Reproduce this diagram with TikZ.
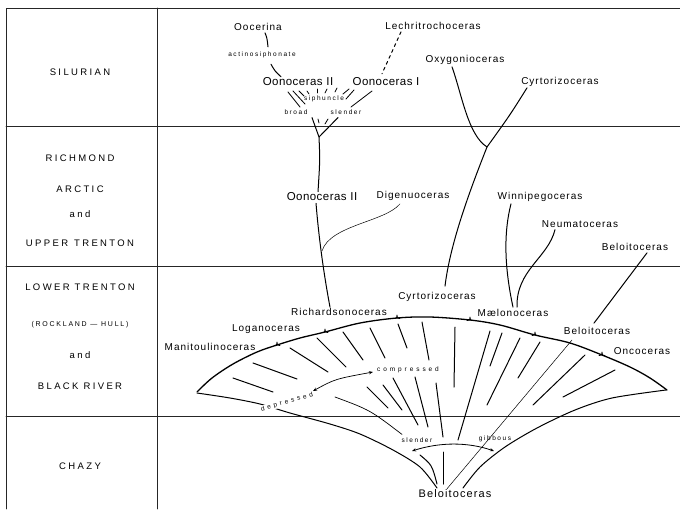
\documentclass[tikz,border=0pt]{standalone}
\usepackage{fontspec}
\setmainfont{Liberation Sans}
\newfontfamily\stagefont[LetterSpace=25]{Liberation Sans}
\newfontfamily\genusfont[LetterSpace=10]{Liberation Sans}
\newfontfamily\biggenusfont[LetterSpace=4]{Liberation Sans}
\newfontfamily\notefont[LetterSpace=24]{Liberation Sans}
\newfontfamily\widenotefont[LetterSpace=45]{Liberation Sans}
\usetikzlibrary{arrows.meta,calc}

\begin{document}
\begin{tikzpicture}[x=1pt,y=-1pt,>={Stealth[length=4pt,width=3.2pt]},line cap=round,line join=round]
\path[fill=white] (0,0) rectangle (680,509);
\useasboundingbox (0,0) rectangle (680,509);
\tikzset{rule/.style={draw=black!85,line width=0.8pt},stage/.style={font=\stagefont\fontsize{9.5}{11}\selectfont,inner sep=1pt},genus/.style={font=\genusfont\fontsize{10}{12}\selectfont,inner sep=1pt},biggenus/.style={font=\biggenusfont\fontsize{11.5}{13}\selectfont,inner sep=1pt},note/.style={font=\notefont\fontsize{6.5}{8}\selectfont,inner sep=1pt},widenote/.style={font=\widenotefont\fontsize{6.5}{8}\selectfont,inner sep=1pt},lin/.style={draw=black,line width=1pt},tick/.style={draw=black,line width=0.8pt},hair/.style={draw=black,line width=0.5pt},rim/.style={draw=black,line width=1.3pt}}
\draw[rule] (6,509) -- (6,8) -- (680,8);
\draw[rule] (157,8) -- (157,509);
\foreach \y in {126,266,416} \draw[rule] (6,\y) -- (680,\y);
\node[stage] (silurian) at (80,72) {SILURIAN};
\node[stage] (richmond) at (80,158) {RICHMOND};
\node[stage] (arctic) at (80,189) {ARCTIC};
\node[stage] (andA) at (80,214) {and};
\node[stage] (upper) at (80,243) {UPPER\hspace{6pt}TRENTON};
\node[stage] (lower) at (80,287) {LOWER TRENTON};
\node[stage,font=\stagefont\fontsize{7}{8}\selectfont] (rockland) at (80,325) {(ROCKLAND — HULL)};
\node[stage] (andB) at (80,355) {and};
\node[stage] (black) at (80,386) {BLACK RIVER};
\node[stage] (chazy) at (80,466) {CHAZY};
\node[genus] (oocerina) at (258,27) {Oocerina};
\node[genus] (lechri) at (433,26) {Lechritrochoceras};
\node[note] (actino) at (262,55) {actinosiphonate};
\node[biggenus] (oonoII) at (298,82) {Oonoceras II};
\node[biggenus] (oonoI) at (386,82) {Oonoceras I};
\node[note] (siph) at (324,99) {siphuncle};
\node[note] (broad) at (296,112) {broad};
\node[note] (slenderA) at (346,112) {slender};
\node[genus] (oxy) at (465,60) {Oxygonioceras};
\node[genus] (cyrtoA) at (560,82) {Cyrtorizoceras};
\node[biggenus] (oonoIIb) at (322,197) {Oonoceras II};
\node[genus] (digen) at (413,196) {Digenuoceras};
\node[genus] (winni) at (540,197) {Winnipegoceras};
\node[genus] (neuma) at (580,224) {Neumatoceras};
\node[genus] (beloitA) at (635,247) {Beloitoceras};
\node[genus] (cyrtoB) at (437,297) {Cyrtorizoceras};
\node[genus] (richard) at (339,312) {Richardsonoceras};
\node[genus] (maelo) at (513,313) {Mælonoceras};
\node[genus] (logan) at (266,329) {Loganoceras};
\node[genus] (beloitB) at (597,331) {Beloitoceras};
\node[genus] (manit) at (210,347) {Manitoulinoceras};
\node[genus] (onco) at (642,351) {Oncoceras};
\node[widenote] (compr) at (408,370) {compressed};
\node[note] (slenderB) at (417,440) {slender};
\node[note] (gibb) at (495,439) {gibbous};
\node[genus,font=\genusfont\fontsize{11}{13}\selectfont] (beloitC) at (455,494) {Beloitoceras};
\draw[lin] ($(oocerina.south)+(7,1)$) .. controls +(2,5) .. ($(actino.north)+(6,-4)$);
\draw[lin] ($(actino.south)+(9,5)$) .. controls +(4,7) .. ($(oonoII.north)+(-17,0)$);
\draw[lin,dash pattern=on 3pt off 3.5pt] ($(lechri.south)+(-32,1)$) -- ($(oonoI.north)+(-4,-3)$);
\foreach \ax/\ay/\bx/\by in {288/92/300/107,293/91/305/104,299/91/304/96,307/91/309/94,317/89/317/93,327/89/325/93,337/88/335/92,349/89/343/94,354/90/346/99,372/91/351/107,318/119/319/123,328/119/325/124} \draw[tick] (\ax,\ay) -- (\bx,\by);
\coordinate (fork) at (319,137);
\draw[lin] ($(broad.south)+(16,2)$) -- (fork) -- ($(slenderA.south)+(-8,2)$);
\draw[lin] (fork) .. controls (320,160) .. ($(oonoIIb.north)+(-4,0)$);
\coordinate (dig) at (322,251);
\draw[lin] ($(oonoIIb.south)+(-6,1)$) .. controls (319,240) and (324,275) .. ($(richard.north)+(-9,0)$);
\draw[hair] ($(digen.south)+(-13,2)$) .. controls (385,222) and (330,225) .. (dig);
\coordinate (cyj) at (487,147);
\draw[lin] ($(oxy.south)+(-13,1)$) .. controls (462,95) and (468,135) .. (cyj);
\draw[lin] ($(cyrtoA.south)+(-33,0)$) .. controls (510,115) .. (cyj);
\draw[lin] (cyj) .. controls (468,195) and (450,245) .. ($(cyrtoB.north)+(8,-5)$);
\draw[lin] ($(winni.south)+(-29,1)$) .. controls (503,235) and (505,270) .. ($(maelo.north)+(0,-1)$);
\draw[lin] ($(neuma.south)+(-25,1)$) .. controls (548,258) and (516,270) .. ($(maelo.north)+(4,-1)$);
\draw[lin] ($(beloitA.south)+(12,1)$) -- ($(beloitB.north)+(-3,-3)$);
\draw[rim] plot[smooth,tension=0.55] coordinates {(197,392) (212,378) (233,364) (257,352) (277,345) (300,338) (325,332) (360,323) (397,318) (430,317) (470,320) (500,325) (535,335) (570,343) (602,355) (630,367) (650,378) (667,390)};
\foreach \nx/\ny in {277/345,325/332,397/318,470/320,535/335,602/355} \draw[tick] (\nx-3,\ny+0.5) .. controls (\nx-0.5,\ny+0.5) .. (\nx,\ny-3) .. controls (\nx+0.5,\ny+0.5) .. (\nx+3,\ny+0.5);
\draw[lin] plot[smooth] coordinates {(197,393) (230,398) (260,404) (290,413) (330,424) (360,434) (393,450) (420,467) (437,488)};
\draw[lin] plot[smooth] coordinates {(666,390) (612,398) (575,410) (537,428) (505,447) (480,467) (463,488)};
\foreach \ax/\ay/\bx/\by in {233/378/273/392,253/363/297/379,290/348/328/372,317/338/346/367,343/332/363/360,370/328/385/358,398/324/407/348,422/322/429/360,455/327/454/387,490/331/458/440,502/333/490/366,520/338/487/405,540/342/518/378,585/355/533/405,615/370/563/397,367/387/388/408,383/385/402/410,393/378/418/425,415/377/428/427,436/383/443/437,443/452/443/484} \draw[lin] (\ax,\ay) -- (\bx,\by);
\draw[hair] (572,340) -- ($(beloitC.north)+(-8,0)$);
\draw[lin,line width=0.7pt] (335,397) .. controls (370,410) .. ($(slenderB.north)+(-15,-2)$);
\draw[lin] (420,455) .. controls (432,465) .. (437,484);
\draw[<->,line width=0.7pt] (313,391) .. controls (335,379) .. ($(compr.west)+(-3,2)$);
\draw[<->,line width=0.8pt] (412,451) .. controls (440,442) and (468,442) .. (494,451);
\node[widenote,rotate=16,fill=white,inner sep=0.5pt] (depr) at (287,402) {depressed};
\end{tikzpicture}
\end{document}
